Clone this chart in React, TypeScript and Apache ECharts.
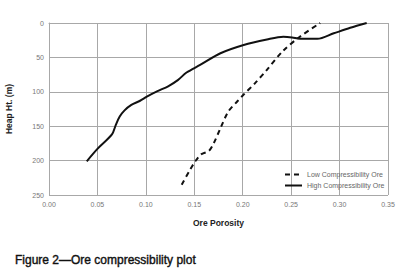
import React, { useEffect, useRef } from "react";
import * as echarts from "echarts";

const xTicks = [0, 0.05, 0.1, 0.15, 0.2, 0.25, 0.3, 0.35];
const yTicks = [0, 50, 100, 150, 200, 250];

const lowName = "Low Compressibility Ore";
const highName = "High Compressibility Ore";

const lowPorosity = [0.137, 0.145, 0.151, 0.157, 0.165, 0.17, 0.177, 0.185, 0.195, 0.201, 0.213, 0.225, 0.242, 0.259, 0.28];
const lowHeight = [235, 215, 201, 191, 186, 175, 153, 129, 113, 104, 87, 68, 40, 20, 0];

const highPorosity = [0.039, 0.05, 0.065, 0.069, 0.073, 0.078, 0.085, 0.094, 0.101, 0.112, 0.123, 0.133, 0.142, 0.156, 0.177, 0.201, 0.225, 0.242, 0.251, 0.259, 0.277, 0.294, 0.311, 0.328];
const highHeight = [201, 183, 162, 148, 136, 127, 119, 113, 107, 99, 92, 83, 72, 61, 44, 32, 24, 20, 21, 23, 23, 15, 7, 0];

const font = "Liberation Sans, Arial, sans-serif";

export default function App() {
  const ref = useRef<HTMLDivElement>(null);
  useEffect(() => {
    const chart = echarts.init(ref.current!, null, { renderer: "svg" });
    const gridColor = "#a8a8a8";
    chart.setOption({
      animation: false,
      backgroundColor: "#ffffff",
      title: {
        text: "Figure 2\u2014Ore compressibility plot",
        left: 10,
        top: 249,
        textStyle: {
          fontFamily: font,
          fontSize: 12,
          fontWeight: "normal",
          color: "#111",
          textBorderColor: "#111",
          textBorderWidth: 0.4,
        },
      },
      legend: {
        left: 279,
        top: 166,
        orient: "vertical",
        itemWidth: 17,
        itemHeight: 6,
        itemGap: 4,
        itemStyle: { opacity: 0 },
        textStyle: { fontFamily: font, fontSize: 7, color: "#666" },
        data: [lowName, highName],
      },
      grid: { left: 49, right: 9, top: 23, bottom: 75, containLabel: false, outerBoundsMode: "none" },
      xAxis: {
        type: "value",
        min: xTicks[0],
        max: xTicks[xTicks.length - 1],
        interval: 0.05,
        name: "Ore Porosity",
        nameLocation: "middle",
        nameGap: 23,
        nameTextStyle: { fontFamily: font, fontSize: 8.5, fontWeight: "bold", color: "#222" },
        axisLine: { show: true, lineStyle: { color: gridColor } },
        axisTick: { show: false },
        splitLine: { show: true, lineStyle: { color: gridColor } },
        axisLabel: {
          fontFamily: font,
          fontSize: 7,
          color: "#777",
          margin: 6,
          formatter: (v: number) => v.toFixed(2),
        },
      },
      yAxis: {
        type: "value",
        inverse: true,
        min: yTicks[0],
        max: yTicks[yTicks.length - 1],
        interval: 50,
        name: "Heap Ht. (m)",
        nameLocation: "middle",
        nameRotate: 90,
        nameGap: 36,
        nameTextStyle: { fontFamily: font, fontSize: 8.5, fontWeight: "bold", color: "#222" },
        axisLine: { show: true, lineStyle: { color: gridColor } },
        axisTick: { show: false },
        splitLine: { show: true, lineStyle: { color: gridColor } },
        axisLabel: { fontFamily: font, fontSize: 7, color: "#777", margin: 5 },
      },
      series: [
        {
          name: lowName,
          type: "line",
          symbol: "none",
          smooth: 0.3,
          data: lowPorosity.map((x, i) => [x, lowHeight[i]]),
          lineStyle: { color: "#111", width: 2, type: [5, 4] },
          itemStyle: { color: "#111" },
        },
        {
          name: highName,
          type: "line",
          symbol: "none",
          smooth: 0.3,
          data: highPorosity.map((x, i) => [x, highHeight[i]]),
          lineStyle: { color: "#111", width: 2 },
          itemStyle: { color: "#111" },
        },
      ],
    });
    return () => chart.dispose();
  }, []);
  return <div ref={ref} style={{ width: 397, height: 270, position: "absolute", left: 0, top: 0 }} />;
}
